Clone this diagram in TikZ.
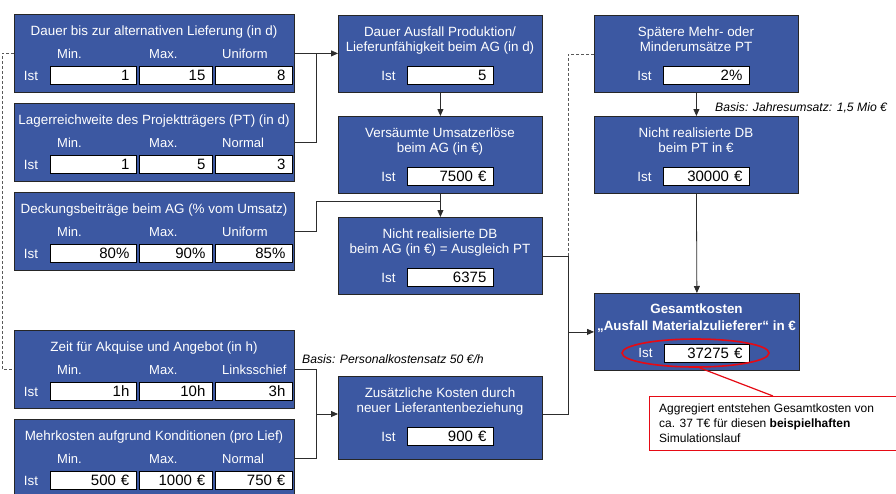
\documentclass[tikz,border=0pt]{standalone}
\usepackage{fontspec}
\setmainfont{Liberation Sans}
\usetikzlibrary{arrows.meta,shapes.geometric}
\definecolor{boxblue}{RGB}{60,88,162}
\definecolor{lnk}{RGB}{45,45,45}
\definecolor{redline}{RGB}{230,10,20}
\newcommand\lbox[7]{%
  \node[box, minimum width=280pt, minimum height=78pt] (#1) at (14,#2) {};
  \node[ttl, anchor=base] (#1t) at (154,#2+21.8) {#3};
  \node[hd] (#1a) at (57,#2+44.7) {Min.};
  \node[hd] (#1b) at (149,#2+44.7) {Max.};
  \node[hd] (#1c) at (222,#2+44.7) {#4};
  \node[ist, anchor=base] (#1i) at (31,#2+66.6) {Ist};
  \node[fld, text width=72pt] (#1x) at (50,#2+52) {#5};
  \node[fld, text width=59pt] (#1y) at (139,#2+52) {#6};
  \node[fld, text width=63pt] (#1z) at (215,#2+52) {#7};
}
\newcommand\cbox[6]{%
  \node[box, minimum width=204pt, minimum height=#4pt] (#1) at (#2,#3) {};
  \node[ttl, anchor=north] (#1t) at (#2+102,#3+11.2) {#5};
  \node[ist, anchor=base] (#1i) at (#2+50.5,#3+65.8) {Ist};
  \node[fld, text width=72pt] (#1x) at (#2+69,#3+51) {#6};
}
\begin{document}
\begin{tikzpicture}[x=1pt,y=-1pt,
  box/.style={draw=black!85, fill=boxblue, line width=0.8pt, inner sep=0pt, anchor=north west},
  fld/.style={draw=black, fill=white, line width=0.7pt, minimum height=18pt, inner xsep=7pt, inner ysep=0pt, anchor=north west, align=right, text height=10.7pt, text depth=0pt, font=\fontsize{15}{17}\selectfont},
  ttl/.style={text=white, font=\fontsize{13.4}{15.5}\selectfont, align=center, inner sep=0pt},
  hd/.style={text=white, font=\fontsize{13}{15}\selectfont, inner sep=0pt, anchor=base west},
  ist/.style={text=white, font=\fontsize{13.4}{15}\selectfont, inner sep=0pt},
  con/.style={draw=lnk, line width=0.8pt},
  arr/.style={con, -{Triangle[length=7pt,width=6pt]}},
  dsh/.style={draw=black!65, line width=0.8pt, dash pattern=on 3pt off 2pt},
  note/.style={font=\itshape\fontsize{12.2}{14}\selectfont, inner sep=0pt, anchor=base west},
]
\useasboundingbox (0,0) rectangle (896,493);
\clip (0,0) rectangle (896,493);
\fill[white] (0,0) rectangle (896,493);

% left input boxes
\lbox{b1}{14}{Dauer bis zur alternativen Lieferung (in d)}{Uniform}{1}{15}{8}
\lbox{b2}{103}{Lagerreichweite des Projektträgers (PT) (in d)}{Normal}{1}{5}{3}
\lbox{b3}{192}{Deckungsbeiträge beim AG (\% vom Umsatz)}{Uniform}{80\%}{90\%}{85\%}
\lbox{b4}{330}{Zeit für Akquise und Angebot (in h)}{Linksschief}{1h}{10h}{3h}
\lbox{b5}{419}{Mehrkosten aufgrund Konditionen (pro Lief)}{Normal}{500 €}{1000 €}{750 €}

% middle boxes
\cbox{m1}{338}{15}{77}{Dauer Ausfall Produktion/\\Lieferunfähigkeit beim AG (in d)}{5}
\cbox{m2}{338}{116}{77}{Versäumte Umsatzerlöse\\beim AG (in €)}{7500 €}
\cbox{m3}{338}{217}{77}{Nicht realisierte DB\\beim AG (in €) = Ausgleich PT}{6375}
\cbox{m4}{338}{376}{83}{Zusätzliche Kosten durch\\neuer Lieferantenbeziehung}{900 €}

% right boxes
\cbox{r1}{594}{15}{77}{Spätere Mehr- oder\\Minderumsätze PT}{2\%}
\cbox{r2}{594}{116}{77}{Nicht realisierte DB\\beim PT in €}{30000 €}
\node[box, minimum width=205pt, minimum height=77pt] (r3) at (594,293) {};
\node[ttl, anchor=north, font=\bfseries\fontsize{13.4}{15.5}\selectfont] (r3t) at (696.5,303.2) {Gesamtkosten\\[1.5pt]„Ausfall Materialzulieferer“ in €};
\node[ist, anchor=base] (r3i) at (645.5,357.8) {Ist};
\node[fld, text width=71pt] (r3x) at (664,344) {37275 €};

% annotations
\node[note] (n1) at (715,111.4) {Basis: Jahresumsatz: 1,5 Mio €};
\node[note] (n2) at (302,363.4) {Basis: Personalkostensatz 50 €/h};

% junction coordinates
\coordinate (jl) at (316,0);
\coordinate (jm) at (316,201);
\coordinate (jr) at (568,0);
\coordinate (dl) at (2,0);
\coordinate (m4in) at (0,414);

% dashed links
\draw[dsh] (b1.west) -- (b1.west -| dl) -- (b4.west -| dl) -- (b4.west);
\draw[dsh] (r1.west) -- (r1.west -| jr) -- (m3.east -| jr) -- (m3.east);

% solid connectors
\draw[arr] (b1.east) -- (b1.east -| m1.west);
\draw[con] (b2.east) -- (b2.east -| jl) -- (b1.east -| jl);
\draw[con] (b3.east) -- (b3.east -| jl) -- (jm) -- (jm -| m3.north);
\draw[arr] (m1.south) -- (m2.north);
\draw[arr] (m2.south) -- (m3.north);
\draw[arr] (m3.east) -- (m3.east -| jr) |- (r3.west);
\draw[con] (m4.east |- m4in) -| (jr |- r3.west);
\draw[arr] (b4.east) -| (jl |- m4in) -- (m4.west |- m4in);
\draw[con] (b5.east) -| (jl |- m4in);
\draw[arr] (r1.south) -- (r2.north);
\draw[arr] (r2.south) -- (r3.north);

% highlight and callout
\node[draw=redline, line width=1.6pt, ellipse, minimum width=147pt, minimum height=28pt, inner sep=0pt] (ell) at (695.5,353) {};
\node[draw=redline, line width=1.2pt, fill=white, anchor=north west, minimum width=260pt, minimum height=54pt, inner sep=0pt] (co) at (649,396) {};
\draw[draw=redline, line width=1.2pt] ([xshift=4pt]ell.south) -- ([xshift=124pt]co.north west);
\node[anchor=north west, align=left, inner sep=0pt, font=\fontsize{12}{15}\selectfont] (cot) at (659,403.5) {Aggregiert entstehen Gesamtkosten von\\ca. 37 T€ für diesen \textbf{beispielhaften}\\Simulationslauf};
\end{tikzpicture}
\end{document}
